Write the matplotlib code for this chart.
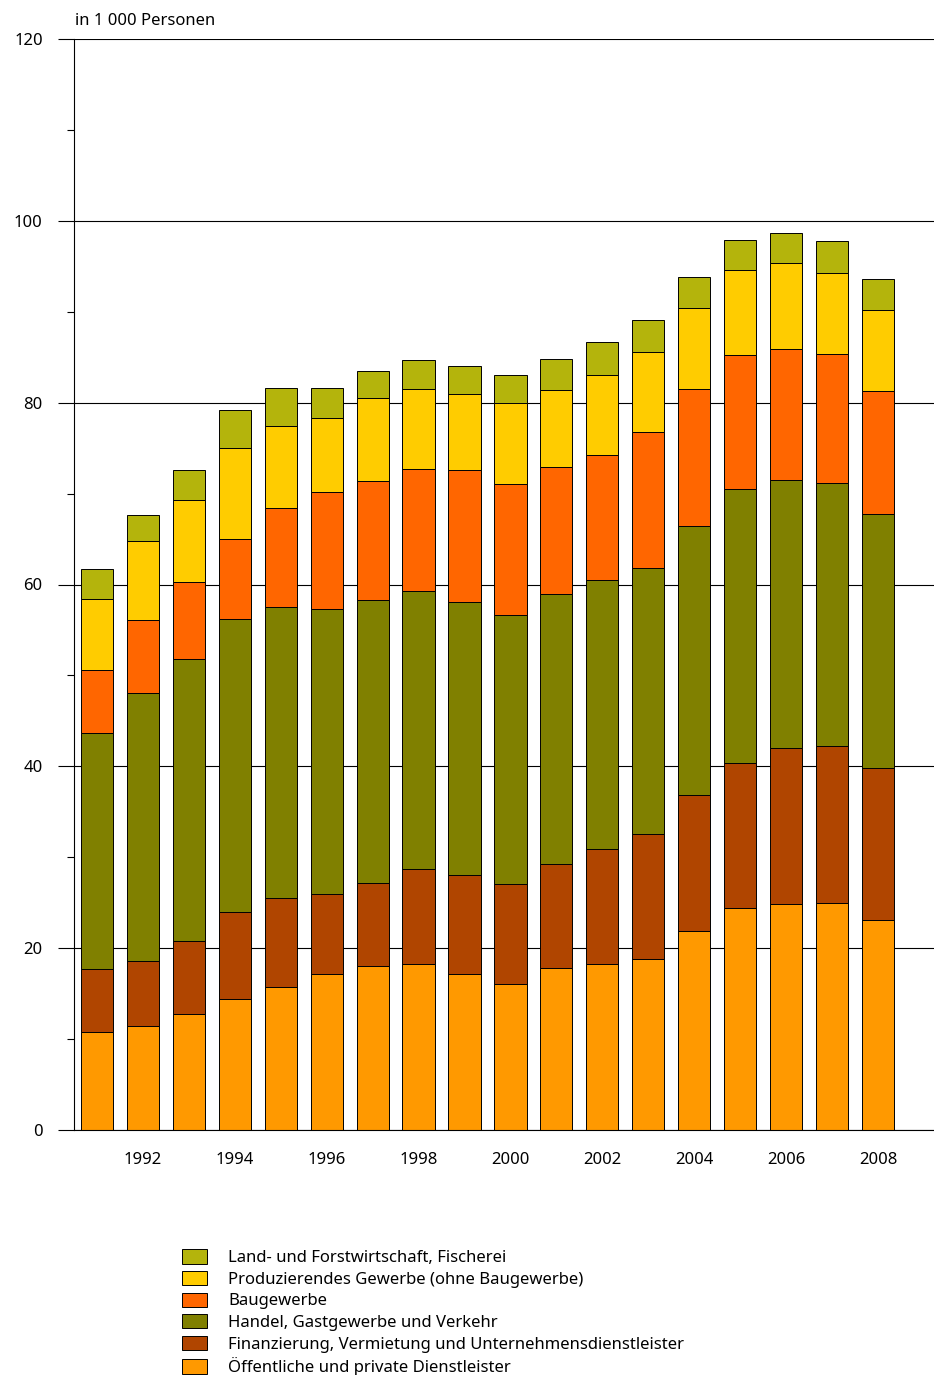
import matplotlib
matplotlib.use("Agg")
import matplotlib.pyplot as plt
from matplotlib.ticker import MultipleLocator
import numpy as np

plt.rcParams["font.family"] = ["Noto Sans", "DejaVu Sans"]

years = np.arange(1991, 2009)

# values in 1 000 persons, per sector
oeffentlich = [10.8, 11.4, 12.8, 14.4, 15.7, 17.2, 18.0, 18.3, 17.2, 16.1, 17.8, 18.3, 18.8, 21.9, 24.4, 24.9, 25.0, 23.1]
finanzierung = [6.9, 7.2, 8.0, 9.6, 9.8, 8.8, 9.2, 10.4, 10.8, 11.0, 11.5, 12.6, 13.8, 14.9, 16.0, 17.1, 17.2, 16.7]
handel = [26.0, 29.5, 31.0, 32.2, 32.0, 31.3, 31.1, 30.6, 30.1, 29.5, 29.7, 29.6, 29.2, 29.6, 30.1, 29.5, 29.0, 28.0]
bau = [6.9, 8.0, 8.5, 8.8, 10.9, 12.9, 13.1, 13.4, 14.5, 14.5, 13.9, 13.7, 15.0, 15.1, 14.7, 14.4, 14.2, 13.5]
produzierend = [7.8, 8.7, 9.0, 10.0, 9.0, 8.1, 9.1, 8.8, 8.4, 8.9, 8.5, 8.8, 8.8, 8.9, 9.4, 9.5, 8.9, 8.9]
land = [3.3, 2.8, 3.3, 4.2, 4.2, 3.3, 3.0, 3.2, 3.0, 3.0, 3.4, 3.7, 3.5, 3.4, 3.3, 3.3, 3.5, 3.4]

series = [
    ("Öffentliche und private Dienstleister", oeffentlich, "#ff9900"),
    ("Finanzierung, Vermietung und Unternehmensdienstleister", finanzierung, "#b04500"),
    ("Handel, Gastgewerbe und Verkehr", handel, "#808000"),
    ("Baugewerbe", bau, "#ff6600"),
    ("Produzierendes Gewerbe (ohne Baugewerbe)", produzierend, "#ffcc00"),
    ("Land- und Forstwirtschaft, Fischerei", land, "#b4b40c"),
]

fig = plt.figure(figsize=(9.34, 13.75), dpi=100)
ax = fig.add_axes([74 / 934, 1 - 1130 / 1375, 1 - 74 / 934, (1130 - 39) / 1375])

bottom = np.zeros(len(years))
handles = []
for label, vals, color in series:
    bars = ax.bar(years, vals, bottom=bottom, width=0.7, color=color,
                  edgecolor="black", linewidth=0.7, label=label, zorder=3)
    handles.append(bars)
    bottom += np.array(vals)

ax.set_xlim(1990.5, 2009.22)
ax.set_ylim(0, 120)

ax.yaxis.set_major_locator(MultipleLocator(20))
ax.yaxis.set_minor_locator(MultipleLocator(10))
ax.grid(axis="y", which="major", color="black", linewidth=0.8, zorder=0)
ax.tick_params(axis="y", which="major", length=11.5, width=0.8, pad=11, labelsize=12)
ax.tick_params(axis="y", which="minor", length=5, width=0.8)

ax.set_xticks(years[1::2])
ax.set_xticklabels([str(y) for y in years[1::2]])
ax.tick_params(axis="x", length=0, pad=16, labelsize=12)

for side in ["top", "right"]:
    ax.spines[side].set_visible(False)
ax.spines["left"].set_linewidth(0.8)
ax.spines["bottom"].set_linewidth(0.8)
ax.spines["bottom"].set_zorder(4)

fig.text(75 / 934, 1 - 21 / 1375, "in 1 000 Personen", fontsize=12, va="center", ha="left")

fig.legend(handles[::-1], [s[0] for s in series][::-1],
           loc="upper left", bbox_to_anchor=(169 / 934, 1 - 1236 / 1375),
           frameon=False, fontsize=12, handlelength=1.45, handleheight=0.95,
           handletextpad=1.3, labelspacing=0.28, borderpad=0.3)

fig.savefig("out.png", dpi=100)
